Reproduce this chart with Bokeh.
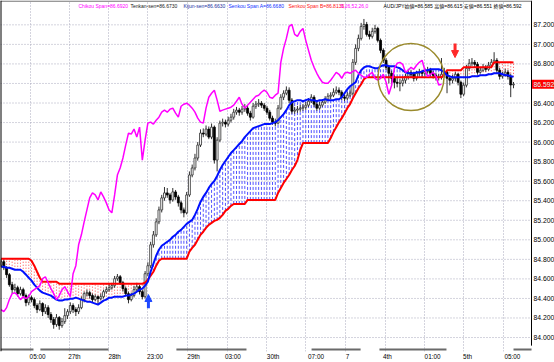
import subprocess
from bokeh.plotting import figure
from bokeh.models import (Range1d, FixedTicker, Label, Span, Arrow, NormalHead,
                          CustomJSTickFormatter)
from bokeh.core.properties import value
from bokeh.embed import file_html
from bokeh.resources import INLINE

# ---------------- data (AUD/JPY hourly) ----------------
opens = [
    84.740, 84.776, 84.714, 84.643, 84.541, 84.490, 84.510, 84.449, 84.490, 84.429,
    84.357, 84.408, 84.388, 84.327, 84.286, 84.347, 84.265, 84.306, 84.235, 84.184,
    84.133, 84.204, 84.122, 84.163, 84.224, 84.265, 84.327, 84.286, 84.265, 84.306,
    84.388, 84.449, 84.459, 84.429, 84.388, 84.418, 84.398, 84.418, 84.469, 84.490,
    84.510, 84.531, 84.602, 84.622, 84.561, 84.500, 84.449, 84.388, 84.429, 84.490,
    84.520, 84.469, 84.418, 84.653, 84.735, 84.949, 85.051, 85.184, 85.306, 85.429,
    85.480, 85.459, 85.408, 85.490, 85.439, 85.378, 85.306, 85.276, 85.459, 85.663,
    85.735, 85.837, 85.969, 86.092, 86.082, 86.133, 86.051, 86.153, 85.816, 86.020,
    86.194, 86.204, 86.184, 86.224, 86.255, 86.306, 86.327, 86.306, 86.337, 86.347,
    86.296, 86.255, 86.367, 86.388, 86.398, 86.378, 86.347, 86.306, 86.245, 86.204,
    86.194, 86.347, 86.459, 86.500, 86.531, 86.429, 86.316, 86.327, 86.337, 86.347,
    86.357, 86.378, 86.418, 86.459, 86.388, 86.347, 86.378, 86.408, 86.439, 86.469,
    86.480, 86.510, 86.531, 86.510, 86.459, 86.449, 86.480, 86.500, 86.816, 86.959,
    87.061, 87.184, 87.204, 87.102, 87.082, 87.133, 87.163, 87.041, 86.939, 86.837,
    86.765, 86.704, 86.653, 86.612, 86.602, 86.602, 86.633, 86.673, 86.714, 86.694,
    86.653, 86.704, 86.714, 86.704, 86.724, 86.735, 86.704, 86.684, 86.663, 86.663,
    86.694, 86.714, 86.653, 86.633, 86.653, 86.694, 86.612, 86.490, 86.582, 86.755,
    86.806, 86.816, 86.796, 86.714, 86.735, 86.765, 86.745, 86.786, 86.816, 86.837,
    86.735, 86.673, 86.694, 86.714, 86.673, 86.585,
]
highs = [
    84.80, 84.80, 84.73, 84.66, 84.57, 84.55, 84.53, 84.52, 84.51, 84.45,
    84.44, 84.43, 84.41, 84.35, 84.38, 84.36, 84.34, 84.33, 84.26, 84.21,
    84.24, 84.22, 84.20, 84.30, 84.29, 84.36, 84.35, 84.31, 84.34, 84.42,
    84.47, 84.49, 84.48, 84.45, 84.44, 84.43, 84.45, 84.49, 84.52, 84.55,
    84.56, 84.63, 84.65, 84.64, 84.58, 84.52, 84.47, 84.46, 84.53, 84.56,
    84.54, 84.49, 84.68, 84.77, 84.98, 85.09, 85.22, 85.34, 85.46, 85.54,
    85.53, 85.48, 85.53, 85.51, 85.46, 85.40, 85.33, 85.49, 85.70, 85.77,
    85.88, 86.00, 86.13, 86.14, 86.17, 86.16, 86.19, 86.17, 86.05, 86.22,
    86.24, 86.23, 86.26, 86.29, 86.34, 86.36, 86.35, 86.37, 86.39, 86.37,
    86.32, 86.40, 86.42, 86.44, 86.42, 86.40, 86.37, 86.33, 86.27, 86.24,
    86.38, 86.49, 86.53, 86.57, 86.56, 86.45, 86.36, 86.37, 86.38, 86.39,
    86.41, 86.45, 86.49, 86.48, 86.41, 86.41, 86.44, 86.47, 86.50, 86.51,
    86.55, 86.57, 86.56, 86.53, 86.49, 86.51, 86.54, 86.85, 87.00, 87.10,
    87.22, 87.26, 87.23, 87.14, 87.17, 87.20, 87.18, 87.06, 86.96, 86.86,
    86.79, 86.73, 86.68, 86.66, 86.65, 86.67, 86.70, 86.75, 86.74, 86.72,
    86.73, 86.75, 86.74, 86.76, 86.77, 86.76, 86.73, 86.71, 86.70, 86.86,
    86.76, 86.74, 86.68, 86.69, 86.72, 86.71, 86.63, 86.61, 86.79, 86.85,
    86.86, 86.84, 86.82, 86.77, 86.80, 86.79, 86.82, 86.85, 86.92, 86.86,
    86.76, 86.72, 86.75, 86.74, 86.70, 86.615,
]
lows = [
    84.72, 84.69, 84.61, 84.52, 84.45, 84.47, 84.42, 84.43, 84.40, 84.32,
    84.33, 84.36, 84.30, 84.25, 84.27, 84.22, 84.24, 84.20, 84.15, 84.09,
    84.11, 84.08, 84.10, 84.14, 84.19, 84.24, 84.25, 84.22, 84.24, 84.29,
    84.36, 84.42, 84.40, 84.36, 84.37, 84.34, 84.38, 84.40, 84.45, 84.47,
    84.49, 84.51, 84.58, 84.54, 84.47, 84.42, 84.35, 84.37, 84.41, 84.47,
    84.44, 84.39, 84.40, 84.63, 84.71, 84.92, 85.03, 85.16, 85.28, 85.40,
    85.43, 85.37, 85.39, 85.41, 85.34, 85.27, 85.23, 85.26, 85.44, 85.64,
    85.71, 85.81, 85.95, 86.05, 86.06, 86.03, 86.03, 85.78, 85.70, 86.00,
    86.16, 86.15, 86.16, 86.20, 86.23, 86.28, 86.27, 86.28, 86.31, 86.27,
    86.22, 86.24, 86.34, 86.36, 86.35, 86.32, 86.28, 86.22, 86.18, 86.16,
    86.18, 86.33, 86.43, 86.48, 86.40, 86.29, 86.29, 86.30, 86.31, 86.32,
    86.33, 86.36, 86.40, 86.36, 86.32, 86.33, 86.36, 86.39, 86.42, 86.44,
    86.46, 86.49, 86.48, 86.43, 86.42, 86.43, 86.46, 86.48, 86.79, 86.93,
    87.04, 87.15, 87.08, 87.05, 87.06, 87.11, 87.02, 86.91, 86.81, 86.74,
    86.60, 86.58, 86.55, 86.56, 86.52, 86.57, 86.60, 86.64, 86.66, 86.62,
    86.63, 86.68, 86.67, 86.68, 86.70, 86.68, 86.65, 86.63, 86.63, 86.64,
    86.66, 86.50, 86.58, 86.60, 86.62, 86.58, 86.45, 86.47, 86.56, 86.73,
    86.78, 86.76, 86.69, 86.70, 86.72, 86.72, 86.73, 86.77, 86.80, 86.71,
    86.64, 86.65, 86.67, 86.64, 86.46, 86.551,
]
closes = [
    84.776, 84.714, 84.643, 84.541, 84.490, 84.510, 84.449, 84.490, 84.429, 84.357,
    84.408, 84.388, 84.327, 84.286, 84.347, 84.265, 84.306, 84.235, 84.184, 84.133,
    84.204, 84.122, 84.163, 84.224, 84.265, 84.327, 84.286, 84.265, 84.306, 84.388,
    84.449, 84.459, 84.429, 84.388, 84.418, 84.398, 84.418, 84.469, 84.490, 84.510,
    84.531, 84.602, 84.622, 84.561, 84.500, 84.449, 84.388, 84.429, 84.490, 84.520,
    84.469, 84.418, 84.653, 84.735, 84.949, 85.051, 85.184, 85.306, 85.429, 85.480,
    85.459, 85.408, 85.490, 85.439, 85.378, 85.306, 85.276, 85.459, 85.663, 85.735,
    85.837, 85.969, 86.092, 86.082, 86.133, 86.051, 86.153, 85.816, 86.020, 86.194,
    86.204, 86.184, 86.224, 86.255, 86.306, 86.327, 86.306, 86.337, 86.347, 86.296,
    86.255, 86.367, 86.388, 86.398, 86.378, 86.347, 86.306, 86.245, 86.204, 86.194,
    86.347, 86.459, 86.500, 86.531, 86.429, 86.316, 86.327, 86.337, 86.347, 86.357,
    86.378, 86.418, 86.459, 86.388, 86.347, 86.378, 86.408, 86.439, 86.469, 86.480,
    86.510, 86.531, 86.510, 86.459, 86.449, 86.480, 86.500, 86.816, 86.959, 87.061,
    87.184, 87.204, 87.102, 87.082, 87.133, 87.163, 87.041, 86.939, 86.837, 86.765,
    86.704, 86.653, 86.612, 86.602, 86.602, 86.633, 86.673, 86.714, 86.694, 86.653,
    86.704, 86.714, 86.704, 86.724, 86.735, 86.704, 86.684, 86.663, 86.663, 86.694,
    86.714, 86.653, 86.633, 86.653, 86.694, 86.612, 86.490, 86.582, 86.755, 86.806,
    86.816, 86.796, 86.714, 86.735, 86.765, 86.745, 86.786, 86.816, 86.837, 86.735,
    86.673, 86.694, 86.714, 86.673, 86.585, 86.592,
]
senkou_a = [
    84.724, 84.724, 84.714, 84.714, 84.704, 84.694, 84.694, 84.694, 84.673, 84.643,
    84.612, 84.582, 84.541, 84.510, 84.480, 84.459, 84.449, 84.439, 84.429, 84.408,
    84.388, 84.378, 84.378, 84.388, 84.388, 84.398, 84.398, 84.408, 84.398, 84.388,
    84.378, 84.367, 84.367, 84.357, 84.347, 84.337, 84.357, 84.378, 84.388, 84.408,
    84.408, 84.418, 84.418, 84.418, 84.418, 84.429, 84.429, 84.439, 84.449, 84.469,
    84.490, 84.500, 84.531, 84.571, 84.673, 84.755, 84.837, 84.898, 84.939, 84.959,
    84.980, 85.000, 85.031, 85.051, 85.082, 85.102, 85.133, 85.163, 85.184, 85.204,
    85.255, 85.316, 85.388, 85.439, 85.480, 85.531, 85.571, 85.602, 85.653, 85.714,
    85.765, 85.806, 85.847, 85.888, 85.918, 85.949, 85.980, 86.010, 86.051, 86.082,
    86.112, 86.143, 86.153, 86.163, 86.173, 86.184, 86.184, 86.184, 86.194, 86.204,
    86.224, 86.255, 86.286, 86.327, 86.378, 86.408, 86.418, 86.429, 86.429, 86.418,
    86.429, 86.439, 86.429, 86.429, 86.418, 86.429, 86.429, 86.439, 86.429, 86.429,
    86.429, 86.439, 86.439, 86.459, 86.500, 86.541, 86.571, 86.592, 86.612, 86.684,
    86.735, 86.765, 86.776, 86.776, 86.765, 86.755, 86.755, 86.776, 86.786, 86.786,
    86.776, 86.776, 86.776, 86.765, 86.755, 86.735, 86.714, 86.704, 86.704, 86.704,
    86.714, 86.714, 86.724, 86.735, 86.735, 86.745, 86.745, 86.745, 86.745, 86.735,
    86.714, 86.684, 86.673, 86.663, 86.663, 86.663, 86.663, 86.663, 86.663, 86.663,
    86.673, 86.673, 86.673, 86.684, 86.684, 86.684, 86.694, 86.694, 86.704, 86.704,
    86.704, 86.694, 86.684, 86.684, 86.673, 86.668,
]
senkou_b = [
    84.806, 84.806, 84.806, 84.806, 84.806, 84.806, 84.806, 84.806, 84.806, 84.806,
    84.806, 84.786, 84.735, 84.673, 84.612, 84.571, 84.571, 84.571, 84.571, 84.571,
    84.571, 84.551, 84.551, 84.551, 84.551, 84.551, 84.551, 84.551, 84.551, 84.551,
    84.551, 84.551, 84.551, 84.551, 84.551, 84.551, 84.551, 84.551, 84.551, 84.551,
    84.551, 84.551, 84.551, 84.551, 84.551, 84.551, 84.551, 84.551, 84.551, 84.551,
    84.551, 84.551, 84.561, 84.592, 84.633, 84.673, 84.735, 84.786, 84.806, 84.806,
    84.806, 84.806, 84.806, 84.806, 84.806, 84.806, 84.806, 84.806, 84.878, 84.918,
    84.949, 85.000, 85.051, 85.082, 85.122, 85.153, 85.173, 85.194, 85.204, 85.224,
    85.255, 85.296, 85.316, 85.347, 85.367, 85.367, 85.367, 85.367, 85.367, 85.408,
    85.408, 85.408, 85.408, 85.408, 85.408, 85.408, 85.408, 85.408, 85.408, 85.408,
    85.480, 85.531, 85.582, 85.622, 85.663, 85.714, 85.755, 85.816, 85.918, 85.990,
    85.990, 85.990, 85.990, 85.990, 85.990, 85.990, 85.990, 85.990, 85.990, 86.041,
    86.102, 86.153, 86.204, 86.245, 86.296, 86.347, 86.388, 86.449, 86.500, 86.551,
    86.592, 86.643, 86.663, 86.663, 86.663, 86.663, 86.663, 86.663, 86.663, 86.663,
    86.663, 86.663, 86.663, 86.663, 86.663, 86.663, 86.663, 86.663, 86.663, 86.663,
    86.663, 86.663, 86.663, 86.663, 86.663, 86.663, 86.663, 86.663, 86.663, 86.663,
    86.694, 86.735, 86.735, 86.735, 86.735, 86.735, 86.735, 86.765, 86.765, 86.765,
    86.765, 86.765, 86.765, 86.765, 86.765, 86.765, 86.765, 86.765, 86.816, 86.816,
    86.816, 86.816, 86.816, 86.816, 86.816, 86.8135,
]
chikou_shift = 26
time_labels = ["05:00", "27th", "28th", "23:00", "29th", "03:00", "30th",
               "07:00", "7", "4th", "01:00", "5th", "05:00"]
price_ticks = [84.0, 84.2, 84.4, 84.6, 84.8, 85.0, 85.2, 85.4, 85.6, 85.8,
               86.0, 86.2, 86.4, 86.8, 87.0, 87.2]
grid_prices = [84.0, 84.2, 84.4, 84.6, 84.8, 85.0, 85.2, 85.4, 85.6, 85.8,
               86.0, 86.2, 86.4, 86.6, 86.8, 87.0, 87.2]
last_price = 86.592
legend_items = [
    ("Chikou Span=86.6920", "#ff00ff"),
    ("Tenkan-sen=86.6730", "#202020"),
    ("Kijun-sen=86.6630", "#2030a0"),
    ("Senkou Span A=86.6680", "#1030ff"),
    ("Senkou Span B=86.8135", "#ff1010"),
    ("9,26,52,26,0", "#ff00ff"),
    ("AUD/JPY始値=86.585 高値=86.615 安値=86.551 終値=86.592", "#000000"),
]

n = len(closes)
assert len(opens) == n and len(highs) == n and len(lows) == n
assert len(senkou_a) == n and len(senkou_b) == n
idx = list(range(n))

# ---------------- fonts ----------------
try:
    _fl = subprocess.run(["fc-list"], capture_output=True, text=True).stdout
except Exception:
    _fl = ""
if "Liberation Sans Narrow" in _fl:
    FONT = "Liberation Sans Narrow, Noto Sans CJK JP"
    LEG_SIZE, Y_SIZE, X_SIZE = "6px", "8px", "7px"
else:
    FONT = "Liberation Sans, Noto Sans CJK JP"
    LEG_SIZE, Y_SIZE, X_SIZE = "5px", "6.8px", "6.4px"

# ---------------- layout positions (bar units) ----------------
X0, X1 = -0.2, 199.8          # whole canvas width; chart frame ends at XF
XF = 191.5
Y0, Y1 = 83.857, 87.449
label_pos = [13.2, 26.5, 41.0, 55.6, 69.5, 83.7, 98.2, 113.7, 125.1, 139.5, 155.8, 168.4, 184.6]
grid_pos = [10.6, 24.7, 38.8, 52.9, 67.3, 81.7, 95.8, 109.9, 124.3, 138.8, 152.9, 166.9, 181.4]
legend_px = [78, 130, 183, 228, 288, 340, 383]
sep_segments = [(-0.2, 11.7), (14.2, 38.8), (63.3, 88.6), (112.1, 129.8), (136.6, 160.8), (185.0, 191.5)]
YLAB_X = 192.2

p = figure(width=554, height=362, output_backend="svg", toolbar_location=None,
           x_range=Range1d(X0, X1), y_range=Range1d(Y0, Y1),
           y_axis_location=None,
           min_border_left=0, min_border_right=0, min_border_top=0, min_border_bottom=0,
           background_fill_color="white", border_fill_color="white")
p.outline_line_color = None

# grid
p.xgrid.ticker = FixedTicker(ticks=grid_pos)
p.xgrid.grid_line_color = "#a8a8bc"
p.xgrid.grid_line_dash = "1 2"
p.ygrid.grid_line_color = None
p.segment(x0=[X0] * len(grid_prices), y0=grid_prices, x1=[XF] * len(grid_prices),
          y1=grid_prices, line_color="#a8a8bc", line_dash="1 2", line_width=1)

# x axis
xa = p.xaxis[0]
xa.ticker = FixedTicker(ticks=label_pos)
xa.formatter = CustomJSTickFormatter(args=dict(labs=time_labels),
                                     code="return labs[index] || '';")
xa.major_label_text_font_size = X_SIZE
xa.major_label_text_font = FONT
xa.major_label_text_color = "black"
xa.major_tick_out = 0
xa.major_tick_in = 0
xa.minor_tick_out = 0
xa.minor_tick_in = 0
xa.major_label_standoff = 1
xa.axis_line_color = None

# Ichimoku cloud hatching
bx, b0, b1, rx, r0, r1 = [], [], [], [], [], []
for i in idx:
    if senkou_a[i] >= senkou_b[i]:
        bx.append(i); b0.append(senkou_b[i]); b1.append(senkou_a[i])
    else:
        rx.append(i); r0.append(senkou_a[i]); r1.append(senkou_b[i])
p.segment(x0=bx, y0=b0, x1=bx, y1=b1, line_color="#4a4aff", line_width=1,
          line_dash="3 2", line_alpha=0.95)
p.segment(x0=rx, y0=r0, x1=rx, y1=r1, line_color="#ff4040", line_width=1,
          line_dash="1 2", line_alpha=0.95)

# candles
p.segment(x0=idx, y0=lows, x1=idx, y1=highs, line_color="#303030", line_width=1)
up = [i for i in idx if closes[i] >= opens[i]]
dn = [i for i in idx if closes[i] < opens[i]]
p.vbar(x=up, width=0.7, top=[closes[i] for i in up], bottom=[opens[i] for i in up],
       fill_color="white", line_color="#303030", line_width=0.8)
p.vbar(x=dn, width=0.7, top=[opens[i] for i in dn], bottom=[closes[i] for i in dn],
       fill_color="black", line_color="black", line_width=0.8)

# Senkou spans
p.line(idx, senkou_b, line_color="#ff0000", line_width=2)
p.line(idx, senkou_a, line_color="#0010ff", line_width=2)

# Chikou span (closes plotted 26 bars back)
p.line(idx[:n - chikou_shift], closes[chikou_shift:], line_color="#ff00ff", line_width=1.5)

# circle annotation
p.ellipse(x=[148.0], y=[86.665], width=66, height=67, width_units="screen",
          height_units="screen", fill_color=None, line_color="#9a8a2c", line_width=1.5)

# arrows
p.add_layout(Arrow(end=NormalHead(size=7, fill_color="#1f48ff", line_color="#1f48ff"),
                   x_start=53.2, y_start=84.30, x_end=53.2, y_end=84.44,
                   line_color="#1f48ff", line_width=3))
p.add_layout(Arrow(end=NormalHead(size=7, fill_color="#ff2a2a", line_color="#ff2a2a"),
                   x_start=163.9, y_start=87.01, x_end=163.9, y_end=86.865,
                   line_color="#ff2a2a", line_width=3))

# bottom separator bars
p.segment(x0=[s[0] for s in sep_segments], y0=[83.878] * len(sep_segments),
          x1=[s[1] for s in sep_segments], y1=[83.878] * len(sep_segments),
          line_color="#6a6a6a", line_width=2)

# frame borders
p.add_layout(Span(location=X0, dimension="height", line_color="black", line_width=2))
p.segment(x0=[XF], y0=[Y0 + 0.06], x1=[XF], y1=[Y1], line_color="black", line_width=1)
p.segment(x0=[X0], y0=[Y1 - 0.006], x1=[XF], y1=[Y1 - 0.006], line_color="#505050", line_width=1)

# price scale labels
p.text(x=[YLAB_X] * len(price_ticks), y=price_ticks, text=["%.3f" % v for v in price_ticks],
       text_font=value(FONT), text_font_size=Y_SIZE, text_color="black",
       text_baseline="middle", text_align="left")
# current price marker on the price scale
p.quad(left=[XF + 0.2], right=[X1], bottom=[last_price - 0.046], top=[last_price + 0.046],
       fill_color="#ff0000", line_color=None)
p.text(x=[YLAB_X], y=[last_price], text=["%.3f" % last_price],
       text_font=value(FONT), text_font_size=Y_SIZE, text_color="#d8ffff",
       text_baseline="middle", text_align="left")

# legend texts
for (txt, col), px in zip(legend_items, legend_px):
    p.add_layout(Label(x=px, y=87.393, x_units="screen", y_units="data", text=txt,
                       text_font=FONT, text_font_size=LEG_SIZE, text_color=col,
                       text_baseline="middle", text_align="left"))

open("out.html", "w").write(file_html(p, INLINE))
